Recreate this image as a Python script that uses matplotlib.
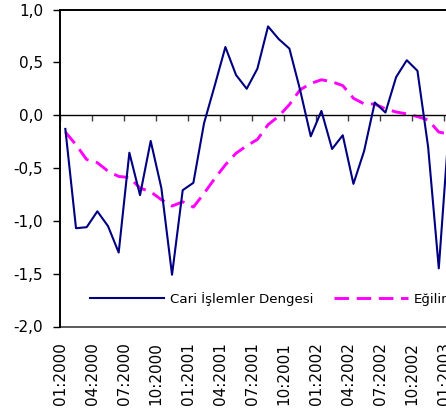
import matplotlib
matplotlib.use("Agg")
import matplotlib.pyplot as plt

# monthly data, 01:2000 onwards
cari = [-0.13, -1.07, -1.06, -0.91, -1.05, -1.30, -0.355, -0.757, -0.244, -0.69,
        -1.51, -0.71, -0.64, -0.076, 0.28, 0.645, 0.38, 0.25, 0.44, 0.84,
        0.72, 0.63, 0.24, -0.20, 0.04, -0.32, -0.19, -0.65, -0.34, 0.12,
        0.025, 0.36, 0.52, 0.42, -0.30, -1.45, -0.05]
egilim = [-0.16, -0.28, -0.42, -0.45, -0.53, -0.58, -0.59, -0.69, -0.725, -0.80,
          -0.86, -0.82, -0.87, -0.74, -0.60, -0.47, -0.36, -0.29, -0.23, -0.09,
          -0.01, 0.10, 0.24, 0.30, 0.335, 0.316, 0.28, 0.16, 0.107, 0.105,
          0.06, 0.03, 0.012, -0.013, -0.045, -0.16, -0.18]
xlabels = ["01:2000", "04:2000", "07:2000", "10:2000", "01:2001", "04:2001", "07:2001",
           "10:2001", "01:2002", "04:2002", "07:2002", "10:2002", "01:2003"]
yticks = [1.0, 0.5, 0.0, -0.5, -1.0, -1.5, -2.0]
ylabels = ["1,0", "0,5", "0,0", "-0,5", "-1,0", "-1,5", "-2,0"]

fig = plt.figure(figsize=(4.46, 4.16), dpi=100)
ax = fig.add_axes([60 / 446, 1 - 326.5 / 416, 426.8 / 446, 317 / 416])

x = list(range(len(cari)))
ax.plot(x, cari, color="#000080", lw=1.5, label="Cari İşlemler Dengesi", zorder=3)
ax.plot(x, egilim, color="#FF00FF", lw=2.1, dashes=(5, 2.6), label="Eğilim", zorder=2)

ax.set_xlim(-0.5, 39.5)
ax.set_ylim(-2.0, 1.0)

# y axis
ax.set_yticks(yticks)
ax.set_yticklabels(ylabels)
ax.tick_params(axis="y", length=5, width=1, pad=7, labelsize=11)
ax.spines["left"].set_linewidth(1.4)
ax.spines["top"].set_linewidth(1.4)
ax.spines["right"].set_linewidth(1.4)

# zero line carries the x ticks
ax.spines["bottom"].set_position(("data", 0))
ax.spines["bottom"].set_linewidth(1.0)
xt = [i * 3 - 0.5 for i in range(len(xlabels))]
ax.set_xticks(xt)
ax.tick_params(axis="x", length=4.5, width=1, color="#404040", labelbottom=False)

# bottom line at -2 with the date labels
sec = ax.secondary_xaxis(0.0)
sec.set_xticks(xt)
sec.set_xticklabels(xlabels, rotation=90, fontsize=11)
sec.tick_params(length=0, pad=11)
sec.spines["bottom"].set_color("#404040")
sec.spines["bottom"].set_linewidth(1.2)

ax.legend(loc="center left", bbox_to_anchor=(90 / 446, 1 - 299 / 416),
          bbox_transform=fig.transFigure, ncol=2, frameon=False, fontsize=9.6,
          borderpad=0, borderaxespad=0, handlelength=5.56, handletextpad=0.45,
          columnspacing=1.5)

fig.savefig("out.png", dpi=100)
